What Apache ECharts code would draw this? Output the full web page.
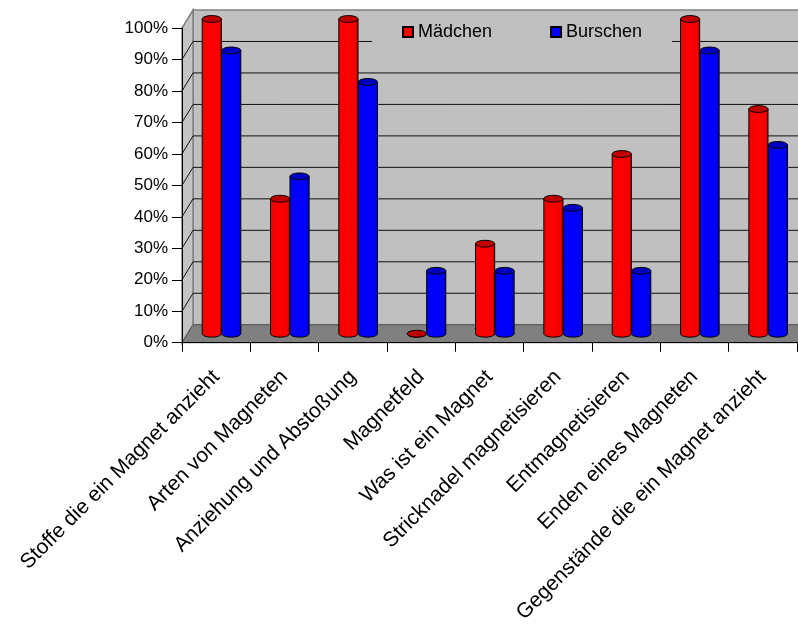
<!DOCTYPE html>
<html>
<head>
<meta charset="utf-8">
<script src="https://cdn.jsdelivr.net/npm/echarts@6/dist/echarts.min.js"></script>
<style>
  html, body { margin: 0; padding: 0; background: #fff; }
  #chart { width: 798px; height: 626px; }
</style>
</head>
<body>
<div id="chart"></div>
<script>
// Topics of the magnetism survey and share of correct answers (percent)
const categories = [
  'Stoffe die ein Magnet anzieht',
  'Arten von Magneten',
  'Anziehung und Abstoßung',
  'Magnetfeld',
  'Was ist ein Magnet',
  'Stricknadel magnetisieren',
  'Entmagnetisieren',
  'Enden eines Magneten',
  'Gegenstände die ein Magnet anzieht'
];
const maedchen = [100, 42.9, 100, 0, 28.6, 42.9, 57.1, 100, 71.4];
const burschen = [90, 50, 80, 20, 20, 40, 20, 90, 60];
const seriesNames = ['Mädchen', 'Burschen'];

// Oblique depth of the 3D box (full depth); bars stand at half depth
const DX = 11, DY = -18;
const FONT = '"Liberation Sans", Arial, sans-serif';

const chart = echarts.init(document.getElementById('chart'));

// Walls, floor and gridlines of the 3D box
function renderBox(params, api) {
  const cs = params.coordSys;
  const x0 = cs.x, x1 = cs.x + cs.width;
  const yOf = v => api.coord([0, v])[1];
  const y0 = yOf(0), yTop = yOf(100);
  const children = [];
  // back wall
  children.push({ type: 'polygon', shape: { points: [[x0 + DX, yTop + DY], [x1 + DX, yTop + DY], [x1 + DX, y0 + DY], [x0 + DX, y0 + DY]] },
    style: { fill: '#c0c0c0', stroke: '#808080', lineWidth: 1.5 } });
  // left side wall
  children.push({ type: 'polygon', shape: { points: [[x0, y0], [x0, yTop], [x0 + DX, yTop + DY], [x0 + DX, y0 + DY]] },
    style: { fill: '#c4c4c4', stroke: '#808080', lineWidth: 1.5 } });
  // gridlines across side wall and back wall
  for (let v = 10; v < 100; v += 10) {
    const y = yOf(v);
    children.push({ type: 'polyline', shape: { points: [[x0, y], [x0 + DX, y + DY], [x1 + DX, y + DY]] },
      style: { fill: null, stroke: '#111', lineWidth: 1 } });
  }
  // floor
  children.push({ type: 'polygon', shape: { points: [[x0, y0], [x1, y0], [x1 + DX, y0 + DY], [x0 + DX, y0 + DY]] },
    style: { fill: '#808080', stroke: '#555', lineWidth: 1 } });
  return { type: 'group', children };
}

// Cylinder bars
function makeCylinder(shift, light, mid, dark, top) {
  return function (params, api) {
    const idx = api.value(0), v = api.value(1);
    const bw = api.size([1, 0])[0];
    const w = bw * 0.28;
    const c = api.coord([idx, v]);
    const b = api.coord([idx, 0]);
    const cx = c[0] + shift * bw + DX / 2;
    const yT = c[1] + DY / 2, yB = b[1] + DY / 2;
    const rx = w / 2, ry = 3.4;
    const pts = [[cx - rx, yT], [cx - rx, yB]];
    for (let k = 1; k < 16; k++) {
      const a = Math.PI * k / 16;
      pts.push([cx - rx * Math.cos(a), yB + ry * Math.sin(a)]);
    }
    pts.push([cx + rx, yB], [cx + rx, yT]);
    const grad = new echarts.graphic.LinearGradient(0, 0, 1, 0, [
      { offset: 0, color: mid },
      { offset: 0.55, color: light },
      { offset: 0.78, color: mid },
      { offset: 0.84, color: light },
      { offset: 1, color: dark }
    ]);
    return {
      type: 'group',
      children: [
        { type: 'polygon', shape: { points: pts }, style: { fill: grad, stroke: '#000', lineWidth: 1 } },
        { type: 'ellipse', shape: { cx: cx, cy: yT, rx: rx, ry: ry }, style: { fill: top, stroke: '#000', lineWidth: 1 } }
      ]
    };
  };
}

const toData = arr => arr.map((v, i) => [i, v]);

chart.setOption({
  animation: false,
  backgroundColor: '#fff',
  textStyle: { fontFamily: FONT },
  grid: { left: 182, right: 1, top: 28, bottom: 283 },
  legend: {
    data: seriesNames,
    left: 372, top: 13,
    backgroundColor: '#c0c0c0',
    padding: [10, 30, 10, 30],
    itemGap: 58,
    itemWidth: 10, itemHeight: 10,
    icon: 'rect',
    textStyle: { fontSize: 18, color: '#000', fontFamily: FONT }
  },
  xAxis: {
    type: 'category',
    data: categories,
    z: 10,
    axisLine: { lineStyle: { color: '#000', width: 1 } },
    axisTick: { show: true, length: 9, lineStyle: { color: '#000' } },
    axisLabel: { interval: 0, rotate: 45, margin: 31, fontSize: 21, color: '#000', fontFamily: FONT },
    splitLine: { show: false }
  },
  yAxis: {
    type: 'value',
    min: 0, max: 100, interval: 10,
    z: 10,
    axisLine: { show: true, lineStyle: { color: '#000', width: 1 } },
    axisTick: { show: true, length: 10, lineStyle: { color: '#000' } },
    axisLabel: { formatter: '{value}%', margin: 14, fontSize: 17, color: '#000', fontFamily: FONT },
    splitLine: { show: false }
  },
  series: [
    {
      type: 'custom', name: 'box', z: 1, silent: true,
      renderItem: renderBox, data: [[0, 0]], legendHoverLink: false
    },
    {
      type: 'custom', name: seriesNames[0], z: 3,
      itemStyle: { color: '#ff0000', borderColor: '#000', borderWidth: 1 },
      renderItem: makeCylinder(-0.145, '#ff0000', '#f20000', '#a00000', '#c00000'),
      data: toData(maedchen)
    },
    {
      type: 'custom', name: seriesNames[1], z: 3,
      itemStyle: { color: '#0000ff', borderColor: '#000', borderWidth: 1 },
      renderItem: makeCylinder(0.14, '#0000ff', '#0000f0', '#0000a0', '#0000c0'),
      data: toData(burschen)
    }
  ]
});
</script>
</body>
</html>
